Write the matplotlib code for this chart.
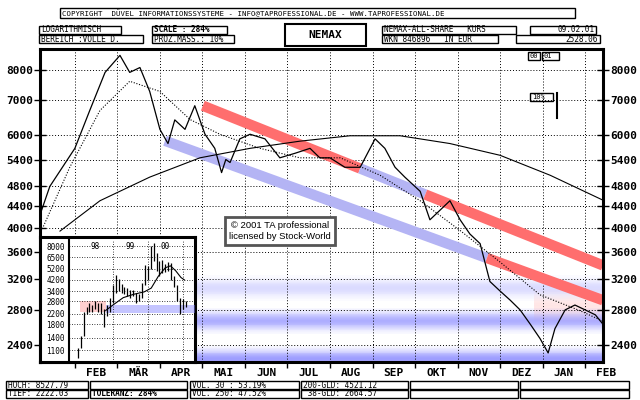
import numpy as np
import matplotlib
matplotlib.use("Agg")
from matplotlib import pyplot as plt
from matplotlib.patches import Rectangle

# ---- data (main chart, x in months, 0 = 1 Feb 2000) ----
price_x = [-0.82, -0.59, 0.0, 0.35, 0.71, 1.06, 1.29, 1.53, 1.76, 2.0, 2.19, 2.35,
           2.59, 2.82, 3.06, 3.29, 3.45, 3.55, 3.65, 3.88, 4.12, 4.47, 4.82, 5.18,
           5.53, 5.76, 6.0, 6.35, 6.71, 7.06, 7.29, 7.53, 7.76, 8.12, 8.35, 8.59,
           8.82, 9.06, 9.29, 9.53, 9.76, 10.0, 10.24, 10.47, 10.71, 10.94, 11.13,
           11.29, 11.53, 11.76, 12.0, 12.24, 12.42]
price_y = [4240, 4800, 5670, 6690, 7900, 8510, 7900, 8070, 7270, 6160, 5790, 6420,
           6160, 6830, 6030, 5670, 5100, 5400, 5330, 5910, 6030, 5910, 5440, 5550,
           5670, 5440, 5440, 5220, 5220, 5910, 5670, 5220, 5000, 4700, 4150, 4330,
           4510, 4150, 3900, 3740, 3170, 3040, 2920, 2800, 2630, 2470, 2320, 2580,
           2800, 2860, 2800, 2740, 2630]
ma200_x = [-0.35, 0.59, 1.76, 2.94, 4.12, 5.29, 6.47, 7.65, 8.82, 10.0, 11.18, 12.42]
ma200_y = [3950, 4510, 5000, 5440, 5670, 5850, 5990, 5990, 5790, 5500, 5040, 4521]
ma38_x = [-0.82, -0.12, 0.59, 1.29, 2.0, 2.71, 3.41, 4.35, 5.29, 6.24, 7.18, 8.12,
          9.06, 10.0, 10.94, 11.88, 12.42]
ma38_y = [3900, 5220, 6690, 7600, 7270, 6430, 6030, 5670, 5440, 5440, 5040, 4510,
          3960, 3450, 2990, 2790, 2665]

# trend channels: (x0, x1, v0, v1) along each channel, and colour parts
upper_ch = (3.01, 12.42, 6830, 3400)
upper_parts = [(3.01, 6.71, "red"), (6.71, 8.24, "blue"), (8.24, 12.42, "red")]
lower_ch = (2.12, 12.42, 5860, 2920)
lower_parts = [(2.12, 9.69, "blue"), (9.69, 12.42, "red")]

# horizontal zones (centre value, strength)
blue_zones = [(3080, 0.22), (2670, 0.5), (2260, 0.6)]
red_zone = (10.8, 12.42, 2850, 0.2)

y_ticks = [2400, 2800, 3200, 3600, 4000, 4400, 4800, 5400, 6000, 7000, 8000]
months = ["FEB", "MÄR", "APR", "MAI", "JUN", "JUL", "AUG", "SEP", "OKT", "NOV",
          "DEZ", "JAN", "FEB"]

# ---- inset data (x in years) ----
ins_x = [98.0, 98.08, 98.17, 98.25, 98.33, 98.42, 98.5, 98.58, 98.67, 98.75, 98.83,
         98.92, 99.0, 99.08, 99.17, 99.25, 99.33, 99.42, 99.5, 99.58, 99.67, 99.75,
         99.83, 99.92, 100.0, 100.08, 100.17, 100.25, 100.33, 100.42, 100.5, 100.58,
         100.67, 100.75, 100.83, 100.92, 101.0, 101.08]
ins_lo = [950, 1150, 1450, 2200, 2300, 2300, 2400, 2300, 2200, 1700, 2100, 2300,
          2700, 3300, 3400, 3300, 3200, 3100, 3000, 3100, 2700, 2800, 3000, 3800,
          4200, 5200, 6000, 5000, 4500, 4800, 4900, 5000, 4200, 3700, 2800, 2200,
          2400, 2500]
ins_hi = [1150, 1450, 2300, 2500, 2700, 2600, 2800, 2700, 2700, 2400, 2600, 3000,
          3800, 4600, 4300, 3900, 3700, 3600, 3500, 3500, 3300, 3200, 4000, 5600,
          5500, 8000, 8500, 7000, 6000, 6200, 5700, 5900, 5800, 4500, 3800, 3000,
          2900, 2800]
ins_ma_x = [98.8, 99.0, 99.3, 99.6, 99.9, 100.1, 100.3, 100.5, 100.65, 100.8, 100.95, 101.05]
ins_ma_y = [2350, 2600, 3000, 3200, 3350, 3600, 4500, 5300, 5500, 5000, 4400, 4200]
ins_ticks = [1100, 1400, 1800, 2200, 2800, 3400, 4200, 5200, 6500, 8000]
ins_years = ["98", "99", "00"]

W, H = 640, 400
MONO = "DejaVu Sans Mono"
fig = plt.figure(figsize=(6.4, 4.0), dpi=100)
fig.patch.set_facecolor("white")


def fx(px):
    return px / W


def fy(py):
    return 1 - py / H


def box(x0, y0, x1, y1, text="", size=5.6, bold=False, ha="left", lw=1.0):
    fig.patches.append(Rectangle((fx(x0), fy(y1)), fx(x1 - x0), (y1 - y0) / H,
                                 transform=fig.transFigure, fill=False,
                                 edgecolor="black", linewidth=lw))
    if text:
        tx = x0 + 2 if ha == "left" else x1 - 2
        fig.text(fx(tx), fy((y0 + y1) / 2), text, ha=ha, va="center",
                 fontsize=size, family=MONO,
                 fontweight="bold" if bold else "normal")


# ---- main axes ----
ax = fig.add_axes([fx(40), fy(362), fx(603 - 40), (362 - 49) / H])
ax.set_yscale("log")
ax.set_xlim(-0.82, 12.42)
ax.set_ylim(2230, 8750)


def channel_val(ch, x):
    x0, x1, v0, v1 = ch
    t = (x - x0) / (x1 - x0)
    return np.exp(np.log(v0) + t * (np.log(v1) - np.log(v0)))


# horizontal blue zones as soft stripes
ks = np.linspace(-1, 1, 31)
step = ks[1] - ks[0]
for c, s in blue_zones:
    for k in ks:
        a = s * np.exp(-2.5 * k * k)
        lo = np.exp(np.log(c) + (k - step / 2) * 0.055)
        hi = np.exp(np.log(c) + (k + step / 2) * 0.055)
        ax.axhspan(lo, hi, color="#5c5cff", alpha=a, lw=0, zorder=1)
rx0, rx1, rc, rs = red_zone
for k in ks:
    a = rs * np.exp(-2.5 * k * k)
    lo = np.exp(np.log(rc) + (k - step / 2) * 0.07)
    hi = np.exp(np.log(rc) + (k + step / 2) * 0.07)
    ax.fill_between([rx0, rx1], lo, hi, color="#ff8080", alpha=a, lw=0, zorder=1)

cols = {"red": "#ff6e6e", "blue": "#b4b4f4"}
for ch, parts in [(upper_ch, upper_parts), (lower_ch, lower_parts)]:
    for a0, a1, c in parts:
        ax.plot([a0, a1], [channel_val(ch, a0), channel_val(ch, a1)],
                color=cols[c], lw=7.5, solid_capstyle="butt", zorder=2)

ax.plot(ma200_x, ma200_y, color="black", lw=0.8, zorder=3)
ax.plot(ma38_x, ma38_y, color="black", lw=0.8, ls=(0, (1, 1.5)), zorder=3)
ax.plot(price_x, price_y, color="black", lw=0.9, zorder=4)

ax.set_yticks(y_ticks)
ax.set_yticklabels([str(v) for v in y_ticks])
ax.yaxis.set_minor_locator(matplotlib.ticker.NullLocator())
ax.tick_params(axis="y", which="major", direction="inout", length=8, width=1,
               labelsize=8, right=True, labelright=True, pad=1)
for t in ax.yaxis.get_major_ticks():
    for lab in (t.label1, t.label2):
        lab.set_family(MONO)
        lab.set_fontweight("bold")
ax.set_xticks(np.arange(0, 13))
ax.set_xticklabels([])
ax.tick_params(axis="x", direction="out", length=4, width=1)
ax.grid(True, color="black", ls=(0, (1, 2)), lw=0.7)
for i, m in enumerate(months):
    ax.text(i + 0.5, -0.035, m, transform=ax.get_xaxis_transform(), ha="center",
            va="center", fontsize=8, family=MONO, fontweight="bold", clip_on=False)
for sp in ax.spines.values():
    sp.set_linewidth(2.2)

# ---- inset ----
frame = fig.add_axes([fx(40), fy(362), fx(195 - 40), (362 - 237) / H])
frame.set_xticks([])
frame.set_yticks([])
frame.set_facecolor("white")
for sp in frame.spines.values():
    sp.set_linewidth(2.2)
ins = fig.add_axes([fx(69), fy(362), fx(195 - 69), (362 - 240) / H])
ins.set_yscale("log")
ins.set_xlim(97.75, 101.35)
ins.set_ylim(880, 9000)
ins.set_facecolor("none")
ins.fill_between([98.8, 101.35], 2250, 2600, color="#8080ff", alpha=0.45, lw=0)
ins.fill_between([98.05, 98.8], 2300, 2800, color="#ff6060", alpha=0.3, lw=0)
ins.vlines(ins_x, ins_lo, ins_hi, color="black", lw=0.9)
ins.plot(ins_ma_x, ins_ma_y, color="black", lw=0.8)
ins.set_yticks(ins_ticks)
ins.set_yticklabels([str(v) for v in ins_ticks])
ins.yaxis.set_minor_locator(matplotlib.ticker.NullLocator())
ins.tick_params(axis="y", length=0, labelsize=5.5, pad=3)
for lab in ins.get_yticklabels():
    lab.set_family(MONO)
ins.set_xticks([99, 100, 101])
ins.set_xticklabels([])
ins.tick_params(axis="x", length=0)
ins.grid(True, color="black", ls=(0, (1, 2)), lw=0.6)
for i, yl in enumerate(ins_years):
    ins.text(98.5 + i, 0.95, yl, transform=ins.get_xaxis_transform(), ha="center",
             va="center", fontsize=5.5, family=MONO)
for k, sp in ins.spines.items():
    sp.set_visible(k == "left")
    sp.set_linewidth(1.5)

# ---- watermark ----
fig.text(fx(280), fy(231), "© 2001 TA professional\nlicensed by Stock-World",
         ha="center", va="center", fontsize=6.8, family="Liberation Sans",
         linespacing=1.3,
         bbox=dict(facecolor="white", edgecolor="#555555", linewidth=2, pad=3))

# ---- header ----
box(60, 8, 575, 18, "COPYRIGHT  DÜVEL INFORMATIONSSYSTEME - INFO@TAPROFESSIONAL.DE - WWW.TAPROFESSIONAL.DE", size=5.3)
box(39, 26, 121, 34, "LOGARITHMISCH")
box(39, 35, 143, 43, "BEREICH :VOLLE D.")
box(152, 26, 227, 34, "SCALE : 284%", bold=True)
box(152, 35, 234, 43, "PROZ.MASS.: 10%")
box(285, 24, 366, 46, "", lw=1.5)
fig.text(fx(325.5), fy(35), "NEMAX", ha="center", va="center", fontsize=8,
         family=MONO, fontweight="bold")
box(382, 26, 516, 34, "NEMAX-ALL-SHARE   KURS")
box(382, 35, 498, 43, "WKN 846896   IN EUR")
box(530, 26, 596, 34, "09.02.01", ha="right")
box(516, 35, 600, 43, "2528.06", ha="right")
box(528, 52, 540, 60, "00", size=5)
box(542, 52, 559, 60, "01", size=5)
box(530, 93, 553, 101, "10%", size=5)
fig.lines.append(plt.Line2D([fx(557), fx(557)], [fy(93), fy(118)],
                            transform=fig.transFigure, color="black", lw=1.5))

# ---- footer ----
box(6, 381, 88, 389, "HOCH: 8527.79")
box(6, 390, 88, 398, "TIEF: 2222.03")
box(90, 381, 187, 389)
box(90, 390, 187, 398, "TOLERANZ: 284%", bold=True)
box(190, 381, 299, 389, "VOL. 30 : 53.19%")
box(190, 390, 299, 398, "VOL. 250: 47.52%")
box(301, 381, 408, 389, "200-GLD: 4521.12")
box(301, 390, 408, 398, " 38-GLD: 2664.57")
box(410, 381, 518, 389)
box(410, 390, 518, 398)
box(520, 381, 629, 389)
box(520, 390, 629, 398)

fig.savefig("out.png", dpi=100)
